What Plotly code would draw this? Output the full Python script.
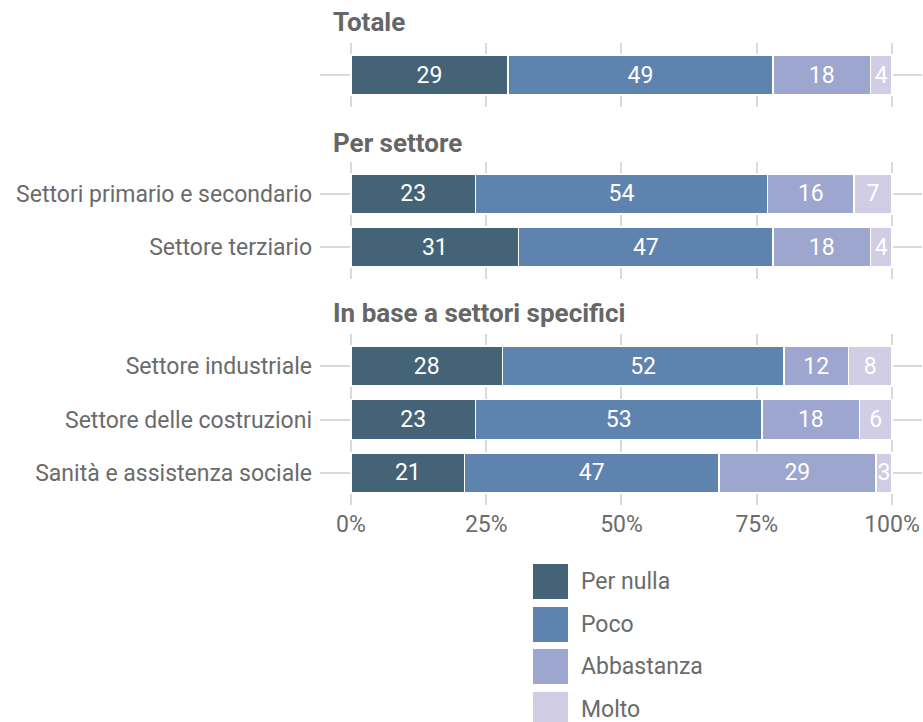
import plotly.graph_objects as go
from plotly.subplots import make_subplots

# ---- data ----
groups = ["Totale", "Per settore", "In base a settori specifici"]
group_categories = [
    [" "],
    ["Settori primario e secondario", "Settore terziario"],
    ["Settore industriale", "Settore delle costruzioni", "Sanità e assistenza sociale"],
]
series_names = ["Per nulla", "Poco", "Abbastanza", "Molto"]
per_nulla = [[29], [23, 31], [28, 23, 21]]
poco = [[49], [54, 47], [52, 53, 47]]
abbastanza = [[18], [16, 18], [12, 18, 29]]
molto = [[4], [7, 4], [8, 6, 3]]
series_values = [per_nulla, poco, abbastanza, molto]
x_tick_vals = [0, 25, 50, 75, 100]
x_tick_text = ["0%", "25%", "50%", "75%", "100%"]

# ---- style ----
colors = ["#446377", "#5e83ae", "#9da6cf", "#d0cde4"]
FONT = "Roboto"
FS = 23
TXT = "#6b6b6b"
GRID = "#dadada"
W, H = 923, 722
L, R = 320, 922
T, B = 43, 505
panels_px = [(43, 107), (162, 279), (334, 505)]
header_y = [22, 143, 313]

def py(p):
    return (B - p) / (B - T)

def px(p):
    return (p - L) / (R - L)

fig = make_subplots(rows=3, cols=1, shared_xaxes=True, vertical_spacing=0.02)

for gi, cats in enumerate(group_categories):
    for si, name in enumerate(series_names):
        vals = series_values[si][gi]
        fig.add_trace(go.Bar(
            y=cats, x=vals, orientation="h", name=name,
            marker=dict(color=colors[si], line=dict(color="white", width=1.5)),
            text=[str(v) for v in vals], textposition="inside",
            insidetextanchor="middle", textangle=0,
            textfont=dict(color="white", size=FS, family=FONT),
            width=0.75, showlegend=False, hoverinfo="skip",
        ), row=gi + 1, col=1)

for gi, cats in enumerate(group_categories):
    n = len(cats)
    top, bot = panels_px[gi]
    yname = "yaxis" if gi == 0 else f"yaxis{gi+1}"
    xname = "xaxis" if gi == 0 else f"xaxis{gi+1}"
    fig.layout[yname].update(
        domain=[py(bot), py(top)], type="category", categoryorder="array",
        categoryarray=cats, range=[n - 1 + 0.6, -0.6],
        showgrid=True, gridcolor=GRID, gridwidth=1.5, zeroline=False,
        showline=False, ticks="", ticklabelstandoff=7,
        tickfont=dict(size=FS, color=TXT, family=FONT),
    )
    fig.layout[xname].update(
        range=[-5.73, 105.55], tickvals=x_tick_vals, ticktext=x_tick_text,
        showgrid=True, gridcolor=GRID, gridwidth=1.5, zeroline=False,
        showline=False, ticks="", showticklabels=(gi == 2), ticklabelstandoff=3,
        tickfont=dict(size=FS, color=TXT, family=FONT),
    )

annotations = []
for gi, g in enumerate(groups):
    annotations.append(dict(
        text=f"<b>{g}</b>", xref="paper", yref="paper", x=px(331), y=py(header_y[gi]),
        xanchor="left", yanchor="middle", showarrow=False,
        font=dict(size=26, color="#666666", family=FONT),
    ))

shapes = []
leg_centers = [581.5, 624.5, 666.5, 709.5]
for si, name in enumerate(series_names):
    cy = leg_centers[si]
    shapes.append(dict(
        type="rect", xref="paper", yref="paper",
        x0=px(533), x1=px(568), y0=py(cy + 17.5), y1=py(cy - 17.5),
        fillcolor=colors[si], line=dict(width=0),
    ))
    annotations.append(dict(
        text=name, xref="paper", yref="paper", x=px(579), y=py(cy),
        xanchor="left", yanchor="middle", showarrow=False,
        font=dict(size=FS, color=TXT, family=FONT),
    ))

fig.update_layout(
    width=W, height=H, barmode="stack", bargap=0.25,
    margin=dict(l=L, r=W - R, t=T, b=H - B),
    plot_bgcolor="white", paper_bgcolor="white",
    font=dict(family=FONT, color=TXT),
    annotations=annotations, shapes=shapes,
    uniformtext=dict(minsize=FS, mode="show"),
)

fig.write_html("out.html")
